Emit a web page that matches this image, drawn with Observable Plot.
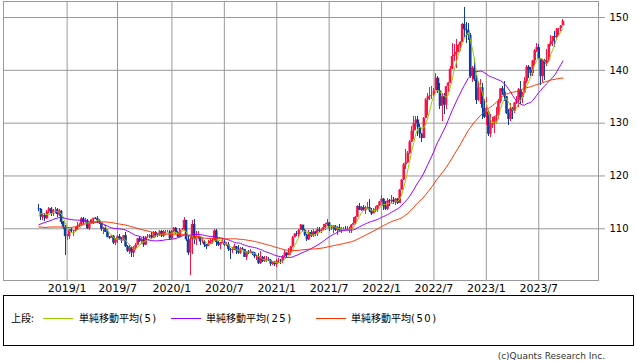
<!DOCTYPE html>
<html><head><meta charset="utf-8">
<script src="https://cdn.jsdelivr.net/npm/d3@7"></script>
<script src="https://cdn.jsdelivr.net/npm/@observablehq/plot@0.6"></script>
<style>
html,body{margin:0;padding:0;background:#fff}
body{width:638px;height:362px;position:relative;overflow:hidden;font-family:"DejaVu Sans","Noto Sans CJK JP",sans-serif;color:#000}
#chart{position:absolute;left:0;top:0}
#legend{position:absolute;left:3px;top:295px;width:629px;height:49px;border:1px solid #000;box-sizing:content-box}
.lg{position:absolute;top:311px;height:14px;line-height:14px;font-size:10px;white-space:nowrap;font-family:"Noto Sans CJK JP","DejaVu Sans",sans-serif}
.lg .p{font-family:"DejaVu Sans",sans-serif;letter-spacing:1.5px}
.ln{position:absolute;top:318px;height:1px}
#copy{position:absolute;right:33px;top:351px;font-size:9px;color:#333;font-family:"DejaVu Sans",sans-serif;white-space:nowrap}
</style></head>
<body>
<div id="chart"></div>
<div id="legend"></div>
<div id="copy">(c)Quants Research Inc.</div>
<script>
// weekly USD/JPY candles, weeks starting 2018-10-01 (Mondays)
const firstWeek = "2018-10-01";
const open = [
113.8,113.7,112.2,112.5,111.9,113.2,113.8,112.8,113.5,113.6,112.6,113.3,111.3,110.3,
108.5,108.5,109.8,109.5,109.5,109.7,110.5,110.7,111.9,111.2,111.5,110.0,110.9,111.7,112.0,111.9,111.5,111.1,109.9,110.1,109.3,108.3,108.2,108.6,107.3,107.9,108.5,107.9,107.7,108.7,106.6,105.7,106.4,105.4,106.3,106.9,108.1,107.6,107.9,106.9,108.4,108.4,108.7,108.2,109.3,108.8,108.7,109.5,108.6,109.4,109.4,109.4,
108.1,109.5,110.1,109.3,108.4,109.7,109.8,111.6,107.9,105.4,108.0,110.8,107.9,108.5,108.5,107.5,107.5,106.9,106.6,107.1,107.6,107.8,109.6,107.4,106.9,107.2,107.5,106.9,107.0,106.1,105.9,105.9,106.6,105.8,105.4,106.2,106.1,104.6,105.6,105.3,105.6,105.4,104.7,104.7,103.4,104.6,103.8,104.1,104.2,104.0,103.3,103.6,
103.2,103.9,103.9,103.8,104.7,105.4,104.9,105.4,106.6,108.3,109.0,108.9,109.7,110.7,109.7,108.8,107.9,109.3,108.6,109.4,108.9,109.8,109.5,109.7,110.2,110.8,111.1,110.1,110.1,110.5,109.7,110.2,109.6,109.8,109.8,109.7,109.9,109.9,110.7,111.0,112.2,114.2,113.5,114.0,113.4,113.9,114.0,113.4,112.8,113.4,113.7,114.4,
115.1,115.6,114.2,113.7,115.3,115.2,115.4,115.0,115.6,114.8,117.3,119.2,122.1,122.5,124.3,126.4,128.5,129.9,130.6,129.2,127.9,127.1,130.9,134.4,135.0,135.2,135.2,136.1,138.5,136.1,133.2,135.0,133.4,136.9,137.6,140.2,142.6,142.9,143.4,144.7,145.3,148.7,147.7,147.5,146.6,138.8,140.4,138.2,134.3,136.6,136.7,132.8,
131.1,132.1,127.9,129.6,129.9,131.2,131.4,134.1,136.5,135.9,135.0,131.8,130.7,132.8,132.2,133.8,134.2,136.3,134.8,135.7,137.9,140.6,140.0,139.4,141.8,143.7,144.3,142.1,138.8,141.8,141.2,141.8,144.9,145.4,146.4,146.2,147.8,147.9,148.4
];
const high = [
114.55,113.9,112.9,112.9,113.4,114.1,114.0,113.7,114.0,113.8,113.7,113.5,111.4,110.7,
109.0,109.9,110.0,109.6,110.2,111.1,111.0,112.1,112.1,111.9,111.7,111.0,111.8,112.0,112.2,112.4,111.7,111.1,110.3,110.7,109.9,108.6,108.8,108.8,108.2,108.7,108.9,108.4,108.8,109.3,106.9,106.9,106.7,106.6,107.2,108.2,108.5,108.1,108.5,108.6,108.9,108.9,109.3,109.5,109.5,109.0,109.7,109.7,109.7,109.7,109.6,109.7,
109.6,110.3,110.2,109.4,110.0,110.1,112.2,111.6,108.5,108.5,111.6,111.7,109.4,109.4,108.6,108.1,107.7,107.0,107.8,107.9,108.1,109.9,109.9,107.6,107.4,108.2,107.8,107.4,107.4,106.2,106.5,107.0,106.7,106.9,106.5,106.4,106.1,105.7,105.8,106.1,105.6,105.5,105.0,105.3,105.7,104.7,104.8,104.8,104.5,104.1,103.9,103.8,
104.1,104.4,104.1,104.9,105.8,105.6,106.2,106.7,108.6,109.2,109.4,109.9,110.9,110.7,109.8,108.9,109.7,109.7,109.8,109.5,110.2,110.3,109.8,110.8,111.0,111.7,111.2,110.7,110.6,110.6,110.4,110.8,110.2,110.3,110.4,110.4,110.2,110.8,112.1,112.3,114.5,114.7,114.3,114.4,114.3,114.9,115.5,113.9,113.9,114.3,114.5,115.2,
116.3,115.8,115.1,115.7,115.5,116.3,115.9,115.8,115.8,117.4,119.4,122.4,125.1,124.7,126.7,129.4,131.2,131.3,131.3,129.8,128.0,131.0,134.6,135.6,136.7,137.0,136.6,139.4,138.9,137.5,135.6,135.6,137.0,137.7,140.8,145.0,144.9,145.9,144.8,145.4,148.9,151.9,149.1,148.8,147.0,140.8,142.2,139.0,137.8,138.2,137.5,134.5,
134.8,132.3,131.6,131.1,131.2,132.9,134.4,136.5,136.9,137.9,135.1,132.6,133.8,133.0,134.0,135.0,136.6,137.8,135.8,138.7,140.9,140.9,140.5,141.9,143.9,145.1,144.9,142.2,142.0,142.0,143.9,144.9,146.6,146.4,147.4,147.9,147.9,148.5,149.7
];
const low = [
113.2,111.6,111.6,111.4,111.8,112.9,112.3,112.3,112.9,112.2,112.3,110.9,109.9,104.9,
107.8,108.0,109.2,108.5,109.3,109.6,110.2,110.6,110.8,111.0,109.8,109.7,110.8,110.8,111.7,111.0,110.8,109.5,109.0,109.3,108.3,107.9,108.2,107.0,106.8,107.3,107.8,107.2,107.7,106.5,105.5,105.1,104.5,104.5,105.9,106.9,107.4,107.0,106.5,106.9,108.2,108.2,107.9,108.2,108.3,108.3,108.6,108.4,108.4,109.2,109.3,107.7,
107.9,109.3,109.0,108.3,108.3,109.6,109.7,107.5,105.0,101.2,105.2,107.1,106.9,107.9,106.9,107.2,106.4,106.0,106.6,107.0,107.1,107.6,106.6,106.6,106.1,107.2,106.7,106.6,105.7,104.2,105.3,105.8,105.1,105.2,105.2,105.8,104.5,104.0,105.2,105.3,105.0,104.3,104.0,103.2,103.2,103.7,103.7,103.7,103.9,102.9,103.1,102.9,
102.6,103.5,103.3,103.5,104.6,104.5,104.9,105.0,106.5,108.3,108.6,108.4,109.7,109.4,108.6,107.5,107.8,108.3,108.3,108.6,108.6,109.3,109.2,109.6,109.7,110.4,109.5,109.7,109.1,109.4,108.7,109.5,109.1,109.6,109.6,109.6,109.1,109.1,110.7,110.8,112.1,113.4,113.3,113.2,112.7,113.7,113.1,112.6,112.8,113.1,113.1,114.3,
115.0,113.5,113.5,113.5,114.2,114.8,114.6,114.4,114.6,114.8,117.3,119.1,121.3,122.4,124.1,126.3,126.9,128.6,127.5,127.0,126.4,127.0,130.8,131.5,134.3,134.5,134.8,136.1,135.6,132.5,130.4,131.7,132.6,135.8,137.5,140.2,141.7,140.4,143.3,143.5,145.3,146.2,145.1,145.7,138.5,137.7,137.9,133.6,134.1,133.6,130.6,130.8,
129.5,127.5,127.2,129.0,128.1,129.8,130.7,133.8,135.3,134.1,131.6,129.6,130.4,130.6,131.9,133.5,133.0,133.5,133.7,135.6,137.6,138.4,138.8,138.8,140.9,143.3,142.0,137.2,137.7,138.1,140.7,141.5,144.6,144.5,144.4,145.9,146.6,147.3,148.4
];
const close = [
113.7,112.2,112.5,111.9,113.2,113.8,112.8,113.5,113.5,112.7,113.4,111.2,110.3,108.5,
108.5,109.8,109.5,109.5,109.7,110.5,110.7,111.9,111.2,111.5,110.0,110.9,111.7,112.0,111.9,111.5,111.1,109.9,110.1,109.3,108.3,108.2,108.6,107.3,107.9,108.5,107.9,107.7,108.7,106.6,105.7,106.4,105.4,106.3,106.9,108.1,107.6,107.9,106.9,108.4,108.4,108.7,108.2,109.3,108.8,108.7,109.5,108.6,109.4,109.4,109.4,108.1,
109.5,110.1,109.3,108.4,109.7,109.8,111.6,107.9,105.4,108.0,110.8,107.9,108.5,108.5,107.5,107.5,106.9,106.6,107.1,107.6,107.8,109.6,107.4,106.9,107.2,107.5,106.9,107.0,106.1,105.9,105.9,106.6,105.8,105.4,106.2,106.1,104.6,105.6,105.3,105.6,105.4,104.7,104.7,103.4,104.6,103.8,104.1,104.2,104.0,103.3,103.6,103.2,
103.9,103.9,103.8,104.7,105.4,104.9,105.4,106.6,108.3,109.0,108.9,109.7,110.7,109.7,108.8,107.9,109.3,108.6,109.4,108.9,109.8,109.5,109.7,110.2,110.8,111.1,110.1,110.1,110.5,109.7,110.2,109.6,109.8,109.8,109.7,109.9,109.9,110.7,111.0,112.2,114.2,113.5,114.0,113.4,113.9,114.0,113.4,112.8,113.4,113.7,114.4,115.1,
115.6,114.2,113.7,115.3,115.2,115.4,115.0,115.6,114.8,117.3,119.2,122.1,122.5,124.3,126.4,128.5,129.9,130.6,129.2,127.9,127.1,130.9,134.4,135.0,135.2,135.2,136.1,138.5,136.1,133.2,135.0,133.4,136.9,137.6,140.2,142.6,142.9,143.4,144.7,145.3,148.7,147.7,147.5,146.6,138.8,140.4,138.2,134.3,136.6,136.7,132.8,131.1,
132.1,127.9,129.6,129.9,131.2,131.4,134.1,136.5,135.9,135.0,131.8,130.7,132.8,132.2,133.8,134.2,136.3,134.8,135.7,137.9,140.6,140.0,139.4,141.8,143.7,144.3,142.1,138.8,141.8,141.2,141.8,144.9,145.4,146.4,146.2,147.8,147.9,148.4,149.3
];
// 49 weekly closes before the first drawn week (from 2017-10-23), needed for the moving averages
const historyStart = "2017-10-23";
const historyClose = [
113.7,114.1,113.5,112.1,111.5,112.2,113.5,112.6,113.3,112.7,
113.1,111.0,110.8,108.6,110.2,108.8,106.3,106.9,105.7,106.8,106.0,104.7,106.3,
106.9,107.4,107.6,109.0,109.1,109.4,110.8,109.4,109.5,109.5,110.7,109.9,110.7,
110.5,112.4,111.4,111.1,111.3,110.8,110.5,111.2,111.0,110.9,112.0,112.6,113.7
];
const xTicks = ["2019-01-07","2019-07-01","2020-01-06","2020-07-06","2021-01-04","2021-07-05","2022-01-03","2022-07-04","2023-01-02","2023-07-03"];
const xTickLabels = ["2019/1","2019/7","2020/1","2020/7","2021/1","2021/7","2022/1","2022/7","2023/1","2023/7"];
const yTicks = [110,120,130,140,150];
const maPeriods = [5,25,50];
const maColors = ["#99cc00","#9900ff","#ff3300"];
const maLabels = ["単純移動平均(5)","単純移動平均(25)","単純移動平均(50)"];
const upColor = "#fa1446", downColor = "#0f3d9e";

const start = new Date(firstWeek + "T00:00:00Z");
const candles = close.map((c, i) => ({
  date: d3.utcMonday.offset(start, i), open: open[i], high: high[i], low: low[i], close: c,
  color: c >= open[i] ? upColor : downColor
}));
const hStart = new Date(historyStart + "T00:00:00Z");
const allClose = historyClose.concat(close);
const series = allClose.map((c, i) => ({date: d3.utcMonday.offset(hStart, i), close: c}));
const tickDates = xTicks.map(s => new Date(s + "T00:00:00Z"));
const labelOf = new Map(tickDates.map((d, i) => [+d, xTickLabels[i]]));

const maMarks = maPeriods.map((k, j) => Plot.lineY(series,
  Plot.filter(d => d.date >= start,
    Plot.windowY({k, anchor: "end", reduce: "mean"}, {x: "date", y: "close", stroke: maColors[j], strokeWidth: 1}))));

const chart = Plot.plot({
  width: 638, height: 296,
  marginLeft: 3, marginRight: 40, marginTop: 1, marginBottom: 16,
  style: {fontFamily: "DejaVu Sans", background: "transparent", overflow: "visible"},
  x: {type: "utc", domain: [new Date("2018-05-31T00:00:00Z"), new Date("2024-01-26T12:00:00Z")]},
  y: {domain: [100.21, 153.03]},
  marks: [
    Plot.gridX(tickDates, {stroke: "#999", strokeOpacity: 1}),
    Plot.gridY(yTicks, {stroke: "#999", strokeOpacity: 1}),
    Plot.ruleX(candles, {x: "date", y1: "low", y2: "high", stroke: "color", strokeWidth: 1, shapeRendering: "crispEdges"}),
    Plot.ruleX(candles, {x: "date", y1: "open", y2: "close", stroke: "color", strokeWidth: 2.6}),
    ...maMarks,
    Plot.frame({stroke: "#999"}),
    Plot.axisY(yTicks, {anchor: "right", tickSize: 6, tickPadding: 5, stroke: "#999", fill: "#000", fontSize: 10, tickFormat: d => String(d)}),
    Plot.axisX(tickDates, {anchor: "bottom", tickSize: 0, tickPadding: 4, fill: "#000", fontSize: 11, tickFormat: d => labelOf.get(+d)})
  ]
});
document.getElementById("chart").appendChild(chart);

// legend
const lgPos = [{line: 43, text: 79}, {line: 171, text: 206}, {line: 316, text: 351}];
const body = document.body;
const head = document.createElement("div");
head.className = "lg"; head.style.left = "11px"; head.textContent = "上段:";
body.appendChild(head);
maLabels.forEach((lab, j) => {
  const ln = document.createElement("div");
  ln.className = "ln"; ln.style.left = lgPos[j].line + "px"; ln.style.width = "30px"; ln.style.background = maColors[j];
  body.appendChild(ln);
  const t = document.createElement("div");
  t.className = "lg"; t.style.left = lgPos[j].text + "px";
  const k = lab.indexOf("(");
  const a = document.createElement("span"); a.textContent = lab.slice(0, k);
  const b = document.createElement("span"); b.className = "p"; b.textContent = lab.slice(k);
  t.appendChild(a); t.appendChild(b);
  body.appendChild(t);
});
</script>
</body></html>
